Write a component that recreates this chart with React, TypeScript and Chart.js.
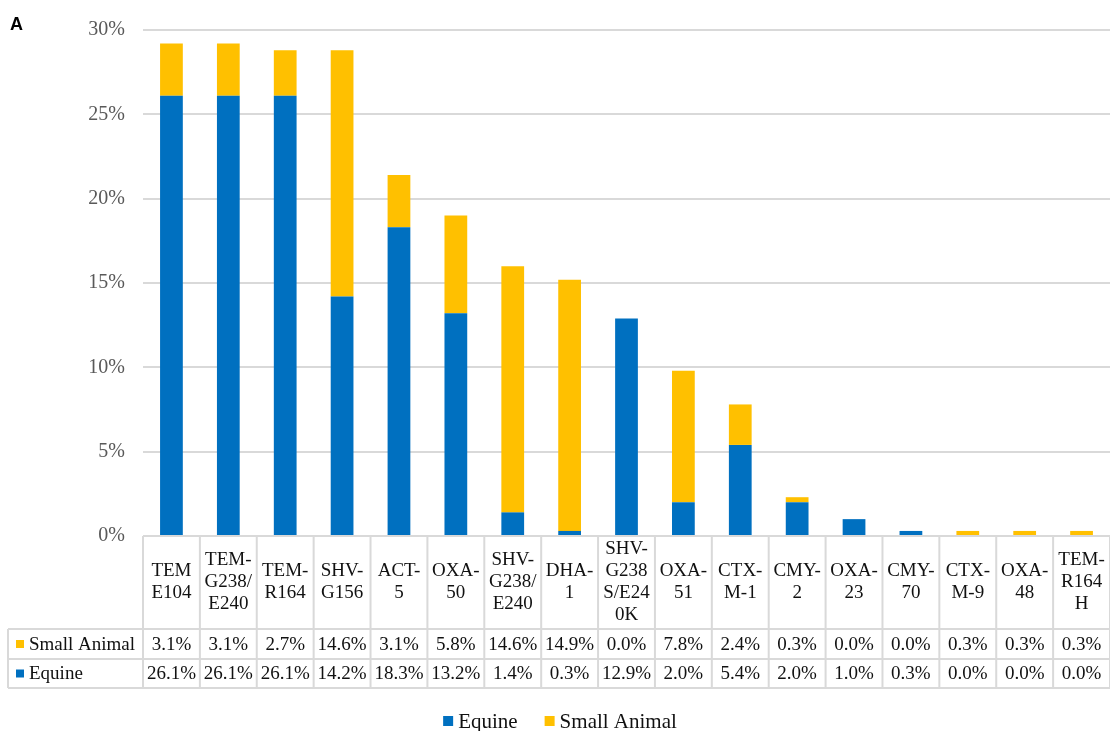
import React, { useEffect, useRef } from 'react';
import { Chart, registerables } from 'chart.js';

Chart.register(...registerables);

const categories: string[][] = [
  ['TEM', 'E104'],
  ['TEM-', 'G238/', 'E240'],
  ['TEM-', 'R164'],
  ['SHV-', 'G156'],
  ['ACT-', '5'],
  ['OXA-', '50'],
  ['SHV-', 'G238/', 'E240'],
  ['DHA-', '1'],
  ['SHV-', 'G238', 'S/E24', '0K'],
  ['OXA-', '51'],
  ['CTX-', 'M-1'],
  ['CMY-', '2'],
  ['OXA-', '23'],
  ['CMY-', '70'],
  ['CTX-', 'M-9'],
  ['OXA-', '48'],
  ['TEM-', 'R164', 'H'],
];

const smallAnimal: number[] = [3.1, 3.1, 2.7, 14.6, 3.1, 5.8, 14.6, 14.9, 0.0, 7.8, 2.4, 0.3, 0.0, 0.0, 0.3, 0.3, 0.3];
const equine: number[] = [26.1, 26.1, 26.1, 14.2, 18.3, 13.2, 1.4, 0.3, 12.9, 2.0, 5.4, 2.0, 1.0, 0.3, 0.0, 0.0, 0.0];

const yMin = 0;
const yMax = 30;
const yStep = 5;

const equineName = 'Equine';
const smallName = 'Small Animal';
const panelLabel = 'A';

const EQUINE_COLOR = '#0070C0';
const SMALL_COLOR = '#FFC000';
const GRID_COLOR = '#d9d9d9';
const SERIF = '"Liberation Serif", "Times New Roman", serif';

const tablePlugin = {
  id: 'dataTable',
  afterDraw(chart: any) {
    const ctx: CanvasRenderingContext2D = chart.ctx;
    const xs = chart.scales.x;
    const area = chart.chartArea;
    const n = categories.length;
    const colW = (area.right - area.left) / n;
    const top = area.bottom;
    const r1 = top + 93;
    const r2 = r1 + 30;
    const r3 = r2 + 29;
    const leftX = 8;

    ctx.save();
    // grid lines of table
    ctx.strokeStyle = GRID_COLOR;
    ctx.lineWidth = 2;
    ctx.beginPath();
    ctx.moveTo(area.left, top);
    ctx.lineTo(area.right, top);
    [r1, r2, r3].forEach((y) => {
      ctx.moveTo(leftX, y);
      ctx.lineTo(area.right, y);
    });
    for (let i = 0; i <= n; i++) {
      const x = i < n ? xs.getPixelForValue(i) - colW / 2 : xs.getPixelForValue(n - 1) + colW / 2;
      ctx.moveTo(x, top);
      ctx.lineTo(x, r3);
    }
    ctx.moveTo(leftX, r1);
    ctx.lineTo(leftX, r3);
    ctx.stroke();

    // category labels
    ctx.fillStyle = '#111111';
    ctx.textAlign = 'center';
    ctx.textBaseline = 'middle';
    ctx.font = `19px ${SERIF}`;
    const lh = 22;
    const midCat = (top + r1) / 2;
    categories.forEach((lines, i) => {
      const cx = xs.getPixelForValue(i);
      const start = midCat - ((lines.length - 1) * lh) / 2;
      lines.forEach((t, k) => ctx.fillText(t, cx, start + k * lh));
    });

    // values
    ctx.font = `19px ${SERIF}`;
    const rowMid1 = (r1 + r2) / 2;
    const rowMid2 = (r2 + r3) / 2;
    smallAnimal.forEach((v, i) => ctx.fillText(v.toFixed(1) + '%', xs.getPixelForValue(i), rowMid1 + 1));
    equine.forEach((v, i) => ctx.fillText(v.toFixed(1) + '%', xs.getPixelForValue(i), rowMid2 + 1));

    // row headers
    ctx.textAlign = 'left';
    ctx.fillStyle = SMALL_COLOR;
    ctx.fillRect(16, rowMid1 - 4, 8, 8);
    ctx.fillStyle = EQUINE_COLOR;
    ctx.fillRect(16, rowMid2 - 4, 8, 8);
    ctx.fillStyle = '#111111';
    ctx.fillText(smallName, 29, rowMid1 + 1);
    ctx.fillText(equineName, 29, rowMid2 + 1);

    // legend
    ctx.font = `21px ${SERIF}`;
    const box = 10;
    const gapBoxText = 5;
    const gapItems = 27;
    const w1 = ctx.measureText(equineName).width;
    const w2 = ctx.measureText(smallName).width;
    const total = box + gapBoxText + w1 + gapItems + box + gapBoxText + w2;
    let lx = 560 - total / 2;
    const ly = 721;
    ctx.fillStyle = EQUINE_COLOR;
    ctx.fillRect(lx, ly - box / 2, box, box);
    lx += box + gapBoxText;
    ctx.fillStyle = '#111111';
    ctx.fillText(equineName, lx, ly + 1);
    lx += w1 + gapItems;
    ctx.fillStyle = SMALL_COLOR;
    ctx.fillRect(lx, ly - box / 2, box, box);
    lx += box + gapBoxText;
    ctx.fillStyle = '#111111';
    ctx.fillText(smallName, lx, ly + 1);

    // panel label
    ctx.font = `bold 18px "Liberation Sans", Arial, sans-serif`;
    ctx.fillStyle = '#000000';
    ctx.fillText(panelLabel, 10, 25);
    ctx.restore();
  },
};

export default function App() {
  const ref = useRef<HTMLCanvasElement | null>(null);

  useEffect(() => {
    if (!ref.current) return;
    const chart = new Chart(ref.current, {
      type: 'bar',
      data: {
        labels: categories.map((c) => c.join(' ')),
        datasets: [
          {
            label: equineName,
            data: equine,
            backgroundColor: EQUINE_COLOR,
            barPercentage: 0.8,
            categoryPercentage: 0.5,
          },
          {
            label: smallName,
            data: smallAnimal,
            backgroundColor: SMALL_COLOR,
            barPercentage: 0.8,
            categoryPercentage: 0.5,
          },
        ],
      },
      options: {
        responsive: false,
        animation: false,
        devicePixelRatio: 1,
        layout: { padding: { left: 0, right: 0, top: 25, bottom: 43 } },
        plugins: {
          legend: { display: false },
          tooltip: { enabled: false },
          title: { display: false },
        },
        scales: {
          x: {
            stacked: true,
            grid: { display: false },
            border: { display: false },
            ticks: { display: false },
            afterFit: (s: any) => {
              s.height = 152;
            },
          },
          y: {
            stacked: true,
            min: yMin,
            max: yMax,
            ticks: {
              stepSize: yStep,
              padding: 18,
              color: '#595959',
              font: { family: SERIF, size: 20 },
              callback: (v: any) => `${v}%`,
            },
            grid: { color: GRID_COLOR, lineWidth: 2, drawTicks: false },
            border: { display: false },
            afterFit: (s: any) => {
              s.width = 143;
            },
          },
        },
      },
      plugins: [tablePlugin],
    });
    return () => chart.destroy();
  }, []);

  return (
    <div style={{ position: 'absolute', left: 0, top: 0, width: 1110, height: 731, background: '#ffffff' }}>
      <canvas ref={ref} width={1110} height={731} style={{ display: 'block' }} />
    </div>
  );
}
